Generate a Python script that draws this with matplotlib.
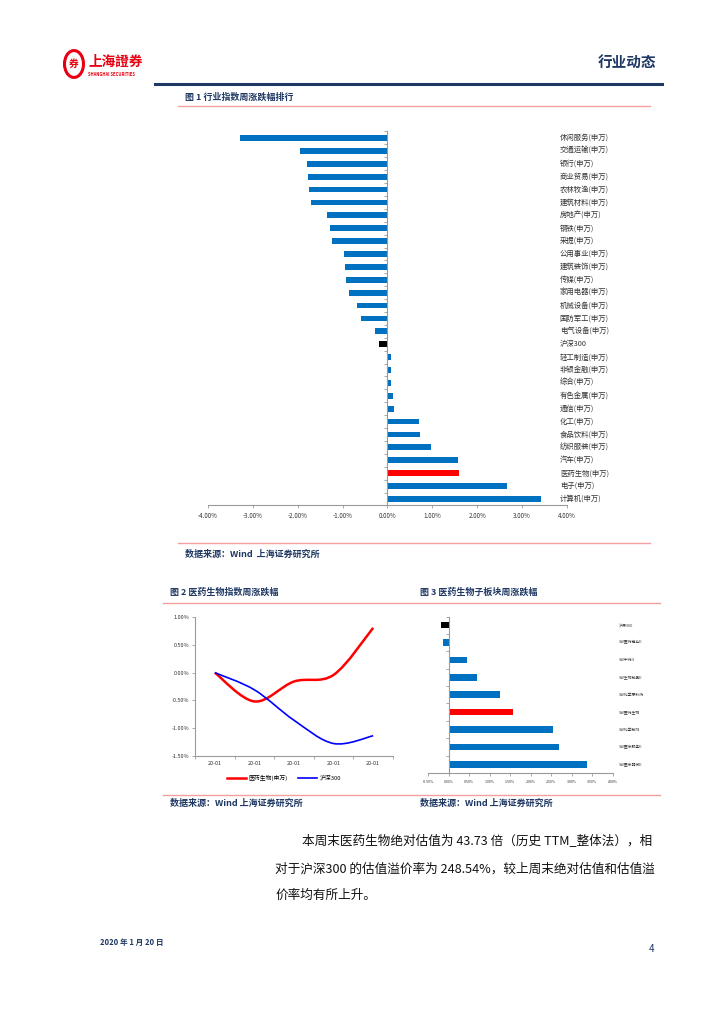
import matplotlib
matplotlib.use("Agg")
import matplotlib.pyplot as plt
from matplotlib.path import Path
from matplotlib.patches import PathPatch, Circle
from matplotlib.lines import Line2D

plt.rcParams['font.family'] = ['Noto Sans CJK SC', 'DejaVu Sans']

# Constants
W, H = 724, 1024
NAVY = '#1F3864'
SALMON = '#F4A0A0'
BLUE = '#0070C0'
RED = '#FF0000'
AXIS_GRAY = '#9A9A9A'

# Figure 1 data
cats1 = ['休闲服务(申万)', '交通运输(申万)', '银行(申万)', '商业贸易(申万)', '农林牧渔(申万)',
         '建筑材料(申万)', '房地产(申万)', '钢铁(申万)', '采掘(申万)', '公用事业(申万)',
         '建筑装饰(申万)', '传媒(申万)', '家用电器(申万)', '机械设备(申万)', '国防军工(申万)',
         '电气设备(申万)', '沪深300', '轻工制造(申万)', '非银金融(申万)', '综合(申万)',
         '有色金属(申万)', '通信(申万)', '化工(申万)', '食品饮料(申万)', '纺织服装(申万)',
         '汽车(申万)', '医药生物(申万)', '电子(申万)', '计算机(申万)']
vals1 = [-3.29, -1.96, -1.80, -1.77, -1.74, -1.71, -1.35, -1.29, -1.23, -0.98,
         -0.94, -0.93, -0.86, -0.68, -0.59, -0.27, -0.19, 0.08, 0.07, 0.08,
         0.13, 0.14, 0.71, 0.73, 0.98, 1.56, 1.60, 2.67, 3.41]
ticks1 = [-4, -3, -2, -1, 0, 1, 2, 3, 4]

# Figure 2 data
days2 = ['20-01', '20-01', '20-01', '20-01', '20-01']
med2 = [0.0, -0.52, -0.16, -0.04, 0.81]
hs2 = [0.0, -0.31, -0.86, -1.28, -1.14]
ticks2 = [-1.5, -1.0, -0.5, 0.0, 0.5, 1.0]

# Figure 3 data
cats3 = ['沪深300', 'SW医药商业II', 'SW中药II', 'SW生物制品II', 'SW化学原料药',
         'SW医药生物', 'SW化学制剂', 'SW医疗服务II', 'SW医疗器械II']
vals3 = [-0.19, -0.14, 0.45, 0.68, 1.25, 1.56, 2.53, 2.68, 3.37]
ticks3 = [-0.5, 0.0, 0.5, 1.0, 1.5, 2.0, 2.5, 3.0, 3.5, 4.0]


def fx(px):
    return px / W


def fy(py):
    return 1 - py / H


def rect(left, top, right, bottom):
    return [fx(left), fy(bottom), (right - left) / W, (bottom - top) / H]


def hline(fig, x0, x1, y, color, lw):
    fig.add_artist(Line2D([fx(x0), fx(x1)], [fy(y), fy(y)], color=color, lw=lw,
                          transform=fig.transFigure))


def bar_colors(cats, red_name):
    out = []
    for c in cats:
        if c == '沪深300':
            out.append('black')
        elif c == red_name:
            out.append(RED)
        else:
            out.append(BLUE)
    return out


def style_hbar(ax, n, xlim, ticks, fs):
    ax.set_xlim(*xlim)
    ax.set_ylim(n - 0.5, -0.5)
    for s in ['top', 'right']:
        ax.spines[s].set_visible(False)
    ax.spines['left'].set_position(('data', 0))
    ax.spines['left'].set_color(AXIS_GRAY)
    ax.spines['bottom'].set_color(AXIS_GRAY)
    ax.set_yticks([i - 0.5 for i in range(n + 1)])
    ax.set_yticklabels([])
    ax.tick_params(axis='y', length=2, width=0.6, color=AXIS_GRAY)
    ax.set_xticks(ticks)
    ax.set_xticklabels(['%.2f%%' % t for t in ticks], fontsize=fs, color='#333333')
    ax.tick_params(axis='x', length=2, width=0.6, color=AXIS_GRAY, pad=3)


def smooth_path(xs, ys):
    # Excel-style smoothed line drawn as cubic Bezier segments
    verts = [(xs[0], ys[0])]
    codes = [Path.MOVETO]
    n = len(xs)
    for i in range(n - 1):
        p0 = (xs[max(i - 1, 0)], ys[max(i - 1, 0)])
        p1 = (xs[i], ys[i])
        p2 = (xs[i + 1], ys[i + 1])
        p3 = (xs[min(i + 2, n - 1)], ys[min(i + 2, n - 1)])
        c1 = (p1[0] + (p2[0] - p0[0]) / 6, p1[1] + (p2[1] - p0[1]) / 6)
        c2 = (p2[0] - (p3[0] - p1[0]) / 6, p2[1] - (p3[1] - p1[1]) / 6)
        verts += [c1, c2, p2]
        codes += [Path.CURVE4] * 3
    return Path(verts, codes)


fig = plt.figure(figsize=(7.24, 10.24), dpi=100)

# Header
fig.add_artist(Circle((fx(74), fy(64)), 9.5 / W, transform=fig.transFigure,
                      facecolor='none', edgecolor='#E60012', lw=2.2))
fig.text(fx(74), fy(64), '券', color='#E60012', fontsize=7, fontweight='bold',
         ha='center', va='center')
fig.text(fx(88), fy(62), '上海證券', color='#E60012', fontsize=9.8, fontweight='bold',
         ha='left', va='center')
fig.text(fx(88), fy(74), 'SHANGHAI SECURITIES', color='#E60012', fontsize=3,
         fontweight='bold', ha='left', va='center')
fig.text(fx(656), fy(62), '行业动态', color=NAVY, fontsize=10.5, fontweight='bold',
         ha='right', va='center')
hline(fig, 155, 662, 84, NAVY, 2.2)

# Figure 1 frame
fig.text(fx(185), fy(97), '图 1 行业指数周涨跌幅排行', color=NAVY, fontsize=6.5,
         fontweight='bold', ha='left', va='center')
hline(fig, 178, 650, 106, SALMON, 1)
hline(fig, 178, 650, 543, SALMON, 1)
fig.text(fx(185), fy(554), '数据来源：Wind  上海证券研究所', color=NAVY, fontsize=6.5,
         fontweight='bold', style='italic', ha='left', va='center')

ax1 = fig.add_axes(rect(208, 131.5, 567, 505.4))
ax1.barh(range(len(cats1)), vals1, height=0.45, color=bar_colors(cats1, '医药生物(申万)'))
style_hbar(ax1, len(cats1), (-4, 4), ticks1, 4.5)
for i, c in enumerate(cats1):
    ax1.text(0.98, i, c, transform=ax1.get_yaxis_transform(), fontsize=5.3,
             color='#333333', ha='left', va='center')

# Figure 2 / 3 frames
fig.text(fx(170), fy(592), '图 2 医药生物指数周涨跌幅', color=NAVY, fontsize=6.5,
         fontweight='bold', ha='left', va='center')
fig.text(fx(420), fy(592), '图 3 医药生物子板块周涨跌幅', color=NAVY, fontsize=6.5,
         fontweight='bold', ha='left', va='center')
hline(fig, 163, 660, 603, SALMON, 1)
hline(fig, 163, 660, 795, SALMON, 1)
fig.text(fx(170), fy(803), '数据来源：Wind 上海证券研究所', color=NAVY, fontsize=6.5,
         fontweight='bold', style='italic', ha='left', va='center')
fig.text(fx(420), fy(803), '数据来源：Wind 上海证券研究所', color=NAVY, fontsize=6.5,
         fontweight='bold', style='italic', ha='left', va='center')

# Figure 2
ax2 = fig.add_axes(rect(195, 617.3, 393, 755.7))
xs = list(range(len(days2)))
ax2.add_patch(PathPatch(smooth_path(xs, med2), facecolor='none', edgecolor=RED, lw=1.8))
ax2.add_patch(PathPatch(smooth_path(xs, hs2), facecolor='none', edgecolor='#0000FF', lw=1.2))
ax2.set_xlim(-0.5, len(days2) - 0.5)
ax2.set_ylim(-1.5, 1.0)
for s in ['top', 'right']:
    ax2.spines[s].set_visible(False)
ax2.spines['left'].set_color(AXIS_GRAY)
ax2.spines['bottom'].set_color(AXIS_GRAY)
ax2.set_yticks(ticks2)
ax2.set_yticklabels(['%.2f%%' % t for t in ticks2], fontsize=4, color='#333333')
ax2.set_xticks(xs)
ax2.set_xticklabels(days2, fontsize=4, color='#333333')
ax2.set_xticks([i - 0.5 for i in range(len(days2) + 1)], minor=True)
ax2.tick_params(axis='x', which='major', length=0, pad=4)
ax2.tick_params(axis='x', which='minor', length=2, width=0.6, color=AXIS_GRAY)
ax2.tick_params(axis='y', length=2, width=0.6, color=AXIS_GRAY, pad=2)
handles = [Line2D([], [], color=RED, lw=1.8), Line2D([], [], color='#0000FF', lw=1.2)]
ax2.legend(handles, ['医药生物(申万)', '沪深300'], loc='upper center',
           bbox_to_anchor=(0.45, -0.1), ncol=2, frameon=False, fontsize=4.2,
           handlelength=3.2, columnspacing=1.8, handletextpad=0.5)

# Figure 3
ax3 = fig.add_axes(rect(428, 616.5, 613, 773))
ax3.barh(range(len(cats3)), vals3, height=0.38, color=bar_colors(cats3, 'SW医药生物'))
style_hbar(ax3, len(cats3), (-0.5, 4.0), ticks3, 2.6)
for i, c in enumerate(cats3):
    ax3.text(1.03, i, c, transform=ax3.get_yaxis_transform(), fontsize=2.8,
             color='#333333', ha='left', va='center')

# Body text
body = ['本周末医药生物绝对估值为 43.73 倍（历史 TTM_整体法），相',
        '对于沪深300 的估值溢价率为 248.54%，较上周末绝对估值和估值溢',
        '价率均有所上升。']
fig.text(fx(302), fy(842), body[0], fontsize=9.1, color='#111111', ha='left', va='center')
fig.text(fx(275), fy(869), body[1], fontsize=9.1, color='#111111', ha='left', va='center')
fig.text(fx(275), fy(895), body[2], fontsize=9.1, color='#111111', ha='left', va='center')

# Footer
fig.text(fx(100), fy(942), '2020 年 1 月 20 日', color=NAVY, fontsize=5.5,
         fontweight='bold', ha='left', va='center')
fig.text(fx(654), fy(949), '4', color=NAVY, fontsize=7, ha='right', va='center')

fig.savefig('out.png', dpi=100)
